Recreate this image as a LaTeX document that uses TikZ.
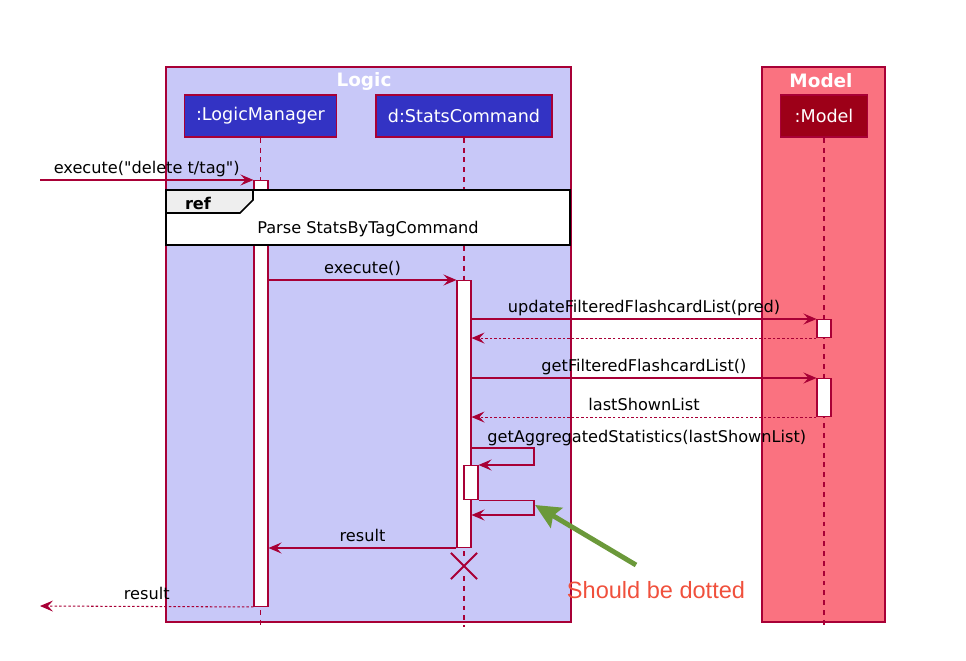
\documentclass[tikz,border=0pt]{standalone}
\usepackage{fontspec}
\setmainfont{DejaVu Sans}[Ligatures=TeXOff]
\newfontfamily\notefont{Liberation Sans}
\usetikzlibrary{arrows.meta,shapes.misc}
\definecolor{umlred}{RGB}{168,0,54}
\definecolor{logicbg}{RGB}{200,200,248}
\definecolor{modelbg}{RGB}{250,114,128}
\definecolor{logicpart}{RGB}{51,51,196}
\definecolor{modelpart}{RGB}{157,0,24}
\definecolor{refgray}{RGB}{238,238,238}
\definecolor{notegreen}{RGB}{107,153,58}
\definecolor{notered}{RGB}{240,80,60}
\tikzset{%
  >={Stealth[length=2.6mm,width=2.2mm,inset=1mm]},
  % Specifications for style of nodes:
        package/.style = {draw=umlred, line width=0.7pt},
       boxtitle/.style = {text=white, font=\fontsize{10.5}{12}\selectfont\bfseries},
    participant/.style = {draw=umlred, line width=0.9pt, text=white,
                          minimum height=0.84cm, inner sep=0pt,
                          font=\fontsize{10}{12}\selectfont},
     activation/.style = {draw=umlred, fill=white, line width=0.6pt,
                          minimum width=0.28cm, inner sep=0pt, anchor=north},
       lifeline/.style = {draw=umlred, line width=0.6pt, dash pattern=on 2.8pt off 2.8pt},
            msg/.style = {->, draw=umlred, line width=0.6pt},
         retmsg/.style = {msg, dash pattern=on 1.4pt off 1.2pt},
       msglabel/.style = {anchor=base, yshift=3.7pt, inner sep=0pt,
                          font=\fontsize{9.2}{11}\selectfont},
       refframe/.style = {draw=black, line width=1pt},
                       }

\begin{document}
\begin{tikzpicture}[x=0.02cm, y=-0.02cm]
  \useasboundingbox (0,0) rectangle (966,661);
  % Packages
  \filldraw[package, fill=logicbg] (166,67) rectangle (571,622);
  \filldraw[package, fill=modelbg] (762,67) rectangle (885,622);
  \node (logicTitle) [boxtitle] at (364,81) {Logic};
  \node (modelTitle) [boxtitle] at (821,81) {Model};

  % Specification of participants
  \node (logicManager) [participant, fill=logicpart, minimum width=3.04cm] at (260.5,116) {:LogicManager};
  \node (statsCommand) [participant, fill=logicpart, minimum width=3.52cm] at (464,116) {d:StatsCommand};
  \node (model)        [participant, fill=modelpart, minimum width=1.74cm] at (824,116) {:Model};

  % Lifelines
  \coordinate (lifeEnd) at (0,627);
  \draw[lifeline] (logicManager) -- (logicManager |- lifeEnd);
  \draw[lifeline] (statsCommand) -- (statsCommand |- 0,556);
  \draw[lifeline] (statsCommand |- 0,576) -- (statsCommand |- lifeEnd);
  \draw[lifeline] (model) -- (model |- lifeEnd);

  % Activation bars
  \node (lmAct)   [activation, minimum height=8.52cm] at (261,180) {};
  \node (scAct)   [activation, minimum height=5.34cm] at (464,280) {};
  \node (modAct1) [activation, minimum height=0.36cm] at (824,319) {};
  \node (modAct2) [activation, minimum height=0.76cm] at (824,378) {};
  \node (nestAct) [activation, minimum height=0.68cm] at (471,465) {};

  % Reference frame
  \filldraw[refframe, fill=white] (166,190) rectangle (570,245);
  \filldraw[refframe, fill=refgray] (166,190) -- (253,190) -- (253,200) -- (240,213) -- (166,213) -- cycle;
  \node (refTag)  [font=\fontsize{9.2}{11}\selectfont\bfseries] at (198,203) {ref};
  \node (refText) [font=\fontsize{9.2}{11}\selectfont] at (368,229) {Parse StatsByTagCommand};

  % Specification of messages between lifelines
  \coordinate (inStart) at (40,180);
  \coordinate (outEnd)  at (40,606);
  \coordinate (selfA)   at (534,448);
  \coordinate (selfB)   at (534,515);
  \draw[msg] (inStart) -- node[msglabel] {execute("delete t/tag")} (lmAct.north west);
  \draw[msg] (lmAct.east |- scAct.north) -- node[msglabel] {execute()} (scAct.north west);
  \draw[msg] (scAct.east |- modAct1.north) -- node[msglabel] {updateFilteredFlashcardList(pred)} (modAct1.north west);
  \draw[retmsg] (modAct1.south west) -- (scAct.east |- modAct1.south);
  \draw[msg] (scAct.east |- modAct2.north) -- node[msglabel] {getFilteredFlashcardList()} (modAct2.north west);
  \draw[retmsg] (modAct2.south west) -- node[msglabel] {lastShownList} (scAct.east |- modAct2.south);
  \node (aggLabel) [msglabel, anchor=base west] at (487,449) {getAggregatedStatistics(lastShownList)};
  \draw[msg] (scAct.east |- selfA) -- (selfA) |- (nestAct.north east);
  \draw[msg] (nestAct.south east) -| (selfB) -- (scAct.east |- selfB);
  \draw[msg] (scAct.south west) -- node[msglabel] {result} (lmAct.east |- scAct.south);
  \draw[retmsg] (lmAct.south west) -- node[msglabel] {result} (outEnd);

  % Destruction of the command
  \node (scDestroy) [draw=umlred, cross out, line width=1.2pt, minimum size=0.48cm] at (464,566) {};

  % Annotation
  \coordinate (noteStart) at (636,565);
  \coordinate (noteTip)   at (535,505);
  \draw[-{Stealth[length=5mm,width=4.6mm,inset=0.8mm]}, notegreen, line width=2.8pt] (noteStart) -- (noteTip);
  \node (noteText) [text=notered, font=\notefont\fontsize{13.4}{16}\selectfont] at (656,590) {Should be dotted};
\end{tikzpicture}
\end{document}
